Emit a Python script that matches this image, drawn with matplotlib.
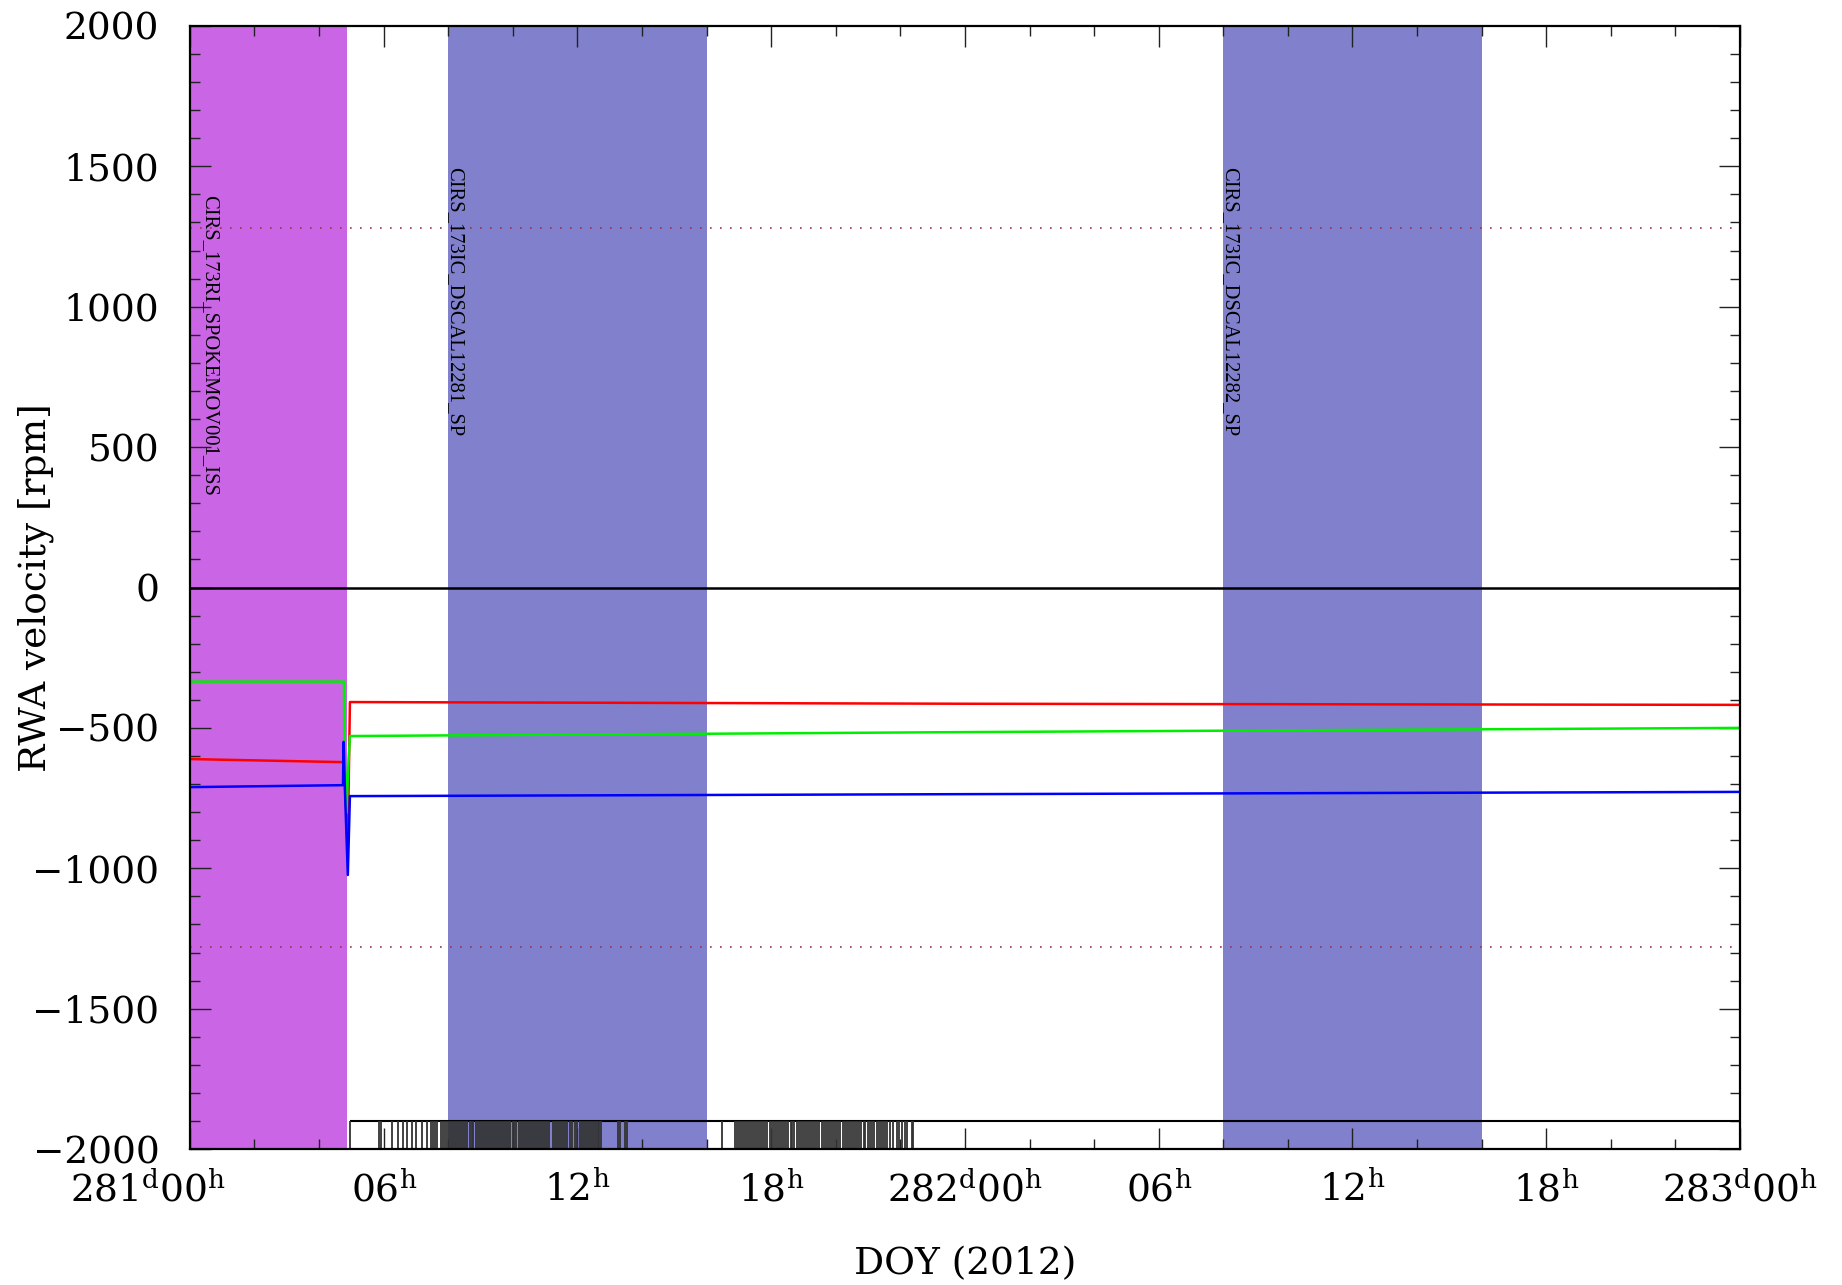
import numpy as np
import matplotlib
matplotlib.use("Agg")
import matplotlib.pyplot as plt
from matplotlib.ticker import MultipleLocator
from matplotlib.transforms import ScaledTranslation

# =========================
# data (hours since DOY 281 00h, rpm)
# =========================
red_t = [0.0, 4.74, 4.80, 4.89, 4.955, 24.0, 48.0]
red_v = [-611, -622, -700, -910, -408, -414, -418]

green_t = [0.0, 4.77, 4.78, 4.85, 4.90, 4.955, 24.0, 48.0]
green_v = [-335, -335, -543, -803, -650, -529, -515, -500]

blue_t = [0.0, 4.74, 4.76, 4.80, 4.89, 4.955, 24.0, 48.0]
blue_v = [-711, -704, -550, -720, -1024, -743, -736, -728]

# observation periods: (start h, end h, name, colour, label top rpm)
obs_names = ["CIRS_173RI_SPOKEMOV001_ISS", "CIRS_173IC_DSCAL12281_SP", "CIRS_173IC_DSCAL12282_SP"]
obs_start = [0.0, 8.0, 32.0]
obs_end = [4.86, 16.0, 40.0]
obs_colors = ["#ca66e6", "#8080cc", "#8080cc"]
obs_label_x = [0.62, 8.2, 32.2]
obs_label_top = [1398, 1498, 1498]

limit_rpm = 1280

# downlink / event markers along the bottom
bar_start = 4.955
event_t = [
    4.955, 5.85, 5.92,
    6.26, 6.44, 6.60, 6.72, 6.88, 7.00, 7.19, 7.34,
    7.46, 7.53, 7.59, 7.65, 7.77, 7.84,
    7.90, 7.96, 8.02, 8.09, 8.15, 8.21, 8.28, 8.34, 8.40, 8.47, 8.53, 8.59,
    8.66, 8.72, 8.78, 8.85, 8.91, 8.97, 9.04, 9.10, 9.16, 9.23, 9.29, 9.35,
    9.42, 9.48, 9.54, 9.61, 9.67, 9.73, 9.80, 9.86, 9.92, 9.99, 10.05, 10.11,
    10.18, 10.24, 10.30, 10.37, 10.43, 10.49, 10.56, 10.62, 10.68, 10.75,
    10.81, 10.87, 10.94, 11.00, 11.06, 11.13,
    11.24, 11.30, 11.36, 11.43, 11.49, 11.55, 11.61, 11.67,
    11.77, 11.83, 11.92, 11.99, 12.08, 12.14,
    12.20, 12.26, 12.33, 12.39, 12.45, 12.52, 12.58, 12.64, 12.67, 12.73,
    13.26, 13.33, 13.47, 13.53,
    16.48,
    16.88, 16.94, 17.01, 17.07, 17.13, 17.19, 17.25, 17.32, 17.38, 17.44, 17.50,
    17.56, 17.63, 17.69, 17.75, 17.81, 17.87,
    17.96, 18.03, 18.09, 18.15, 18.22, 18.28, 18.34, 18.41, 18.47, 18.53,
    18.60, 18.66, 18.72, 18.79, 18.85, 18.91, 18.98, 19.04, 19.10, 19.17,
    19.23, 19.29, 19.36, 19.42, 19.48,
    19.57, 19.64, 19.70, 19.76, 19.83, 19.89, 19.95, 20.02, 20.08, 20.14, 20.21,
    20.29, 20.35, 20.41, 20.48, 20.54, 20.60, 20.67, 20.73, 20.79, 20.86, 20.92,
    21.00, 21.06, 21.13, 21.19, 21.28, 21.34, 21.40, 21.47, 21.53, 21.59,
    21.68, 21.77, 21.90, 21.96, 22.05, 22.14, 22.20, 22.36, 22.39,
]

x_ticks = [0, 6, 12, 18, 24, 30, 36, 42, 48]
x_ticklabels = [r"$281^{d}00^{h}$", r"$06^{h}$", r"$12^{h}$", r"$18^{h}$",
                r"$282^{d}00^{h}$", r"$06^{h}$", r"$12^{h}$", r"$18^{h}$",
                r"$283^{d}00^{h}$"]
y_ticks = [-2000, -1500, -1000, -500, 0, 500, 1000, 1500, 2000]

# =========================
# style
# =========================
plt.rcParams.update({
    "font.family": ["DejaVu Serif"],
    "mathtext.default": "regular",
    "font.size": 27,
})

fig = plt.figure(figsize=(18.42, 12.85), dpi=100)
ax = fig.add_axes([0.1031, 0.1058, 0.8415, 0.874])

# observation spans + names
for s, e, name, c, lx, ly in zip(obs_start, obs_end, obs_names, obs_colors, obs_label_x, obs_label_top):
    ax.axvspan(s, e, color=c, lw=0, zorder=0)
    ax.text(lx, ly, name, rotation=-90, ha="center", va="top",
            fontsize=14.8, family=["Liberation Serif", "DejaVu Serif"], zorder=5)

# limits and zero line
ax.axhline(limit_rpm, color="#a03050", ls=(0, (1, 5)), lw=1.2, zorder=2)
ax.axhline(-limit_rpm, color="#a03050", ls=(0, (1, 5)), lw=1.2, zorder=2)
ax.axhline(0, color="black", lw=1.8, zorder=2)

# wheel speeds
ax.plot(red_t, red_v, color="#ff0000", lw=1.8, zorder=3)
ax.plot(green_t, green_v, color="#00ee00", lw=1.8, zorder=3)
ax.plot(blue_t, blue_v, color="#0000ff", lw=1.8, zorder=4)

# bottom event bar
ax.hlines(-1900, bar_start, 48, color="black", lw=1.5, zorder=3)
ax.vlines(event_t, -2000, -1900, color="#333333", lw=1.3, zorder=3)

ax.set_xlim(0, 48)
ax.set_ylim(-2000, 2000)

ax.set_xticks(x_ticks)
ax.set_xticklabels(x_ticklabels)
ax.xaxis.set_minor_locator(MultipleLocator(2))
ax.set_yticks(y_ticks)
ax.set_yticklabels([f"{v}".replace("-", "\u2212") for v in y_ticks])
ax.yaxis.set_minor_locator(MultipleLocator(100))

ax.tick_params(which="both", direction="in", top=True, right=True, width=1.0, color="#222222")
ax.tick_params(which="major", length=15)
ax.tick_params(which="minor", length=7.5)
ax.tick_params(axis="y", pad=22)
ax.tick_params(axis="x", pad=16)

# first day label sits a bit left of its tick
lab0 = ax.get_xticklabels()[0]
lab0.set_transform(lab0.get_transform() + ScaledTranslation(-0.42, 0, fig.dpi_scale_trans))

for sp in ax.spines.values():
    sp.set_linewidth(1.6)
    sp.set_zorder(6)

ax.set_ylabel("RWA velocity [rpm]")
ax.yaxis.set_label_coords(-0.088, 0.5)
ax.set_xlabel("DOY (2012)", labelpad=27)

fig.savefig("out.png", dpi=100)
